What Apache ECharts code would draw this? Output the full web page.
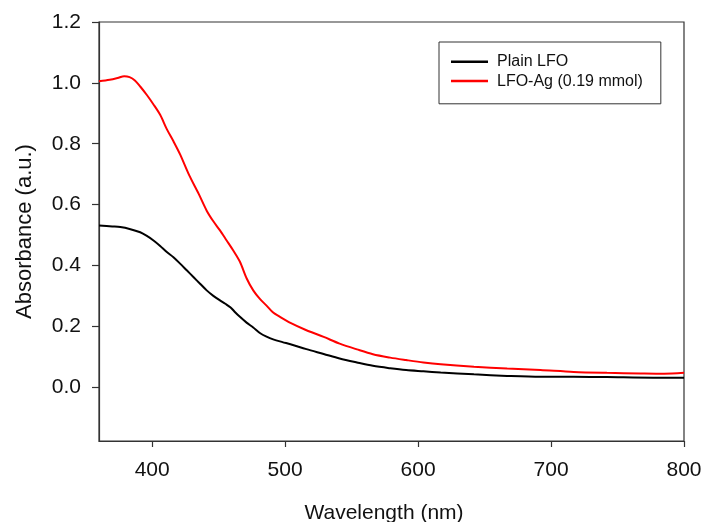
<!DOCTYPE html>
<html>
<head>
<meta charset="utf-8">
<script src="https://cdn.jsdelivr.net/npm/echarts@6/dist/echarts.min.js"></script>
<style>
  html, body { margin: 0; padding: 0; background: #fff; }
  #chart { width: 702px; height: 522px; }
</style>
</head>
<body>
<div id="chart"></div>
<script>
// UV-Vis absorbance spectra
const seriesNames = ['Plain LFO', 'LFO-Ag (0.19 mmol)'];

const plainWavelength = [360, 370, 376, 383, 391, 396, 401, 406, 411, 416, 421, 426, 431, 436, 441, 446, 451, 455, 459, 462, 466, 471, 476, 481, 486, 491, 498, 504, 516, 529, 541, 554, 566, 579, 591, 604, 617, 642, 667, 692, 717, 742, 777, 800];
const plainAbsorbance = [0.531, 0.528, 0.526, 0.520, 0.509, 0.497, 0.482, 0.464, 0.444, 0.427, 0.406, 0.384, 0.362, 0.340, 0.318, 0.300, 0.285, 0.274, 0.262, 0.248, 0.231, 0.212, 0.196, 0.178, 0.166, 0.157, 0.148, 0.141, 0.125, 0.109, 0.094, 0.081, 0.070, 0.062, 0.056, 0.052, 0.048, 0.042, 0.037, 0.034, 0.034, 0.033, 0.031, 0.031];

const agWavelength = [360, 368, 374, 379, 383, 387, 391, 396, 401, 406, 411, 416, 421, 428, 435, 441, 446, 451, 456, 461, 466, 471, 476, 481, 486, 491, 495, 504, 516, 529, 541, 554, 566, 579, 591, 604, 617, 642, 667, 692, 717, 742, 767, 785, 800];
const agAbsorbance = [1.005, 1.010, 1.016, 1.022, 1.019, 1.008, 0.988, 0.960, 0.929, 0.895, 0.848, 0.808, 0.765, 0.695, 0.635, 0.580, 0.545, 0.515, 0.482, 0.449, 0.412, 0.358, 0.318, 0.290, 0.268, 0.245, 0.234, 0.211, 0.187, 0.165, 0.143, 0.124, 0.108, 0.097, 0.089, 0.081, 0.075, 0.067, 0.061, 0.056, 0.050, 0.047, 0.045, 0.044, 0.047];

const xTicks = [400, 500, 600, 700, 800];
const yTicks = [0.0, 0.2, 0.4, 0.6, 0.8, 1.0, 1.2];

function zip(xs, ys) { return xs.map((x, i) => [x, ys[i]]); }

const font = 'Liberation Sans, Arial, sans-serif';
const axisColor = '#333';

const chart = echarts.init(document.getElementById('chart'), null, { renderer: 'canvas' });
chart.setOption({
  animation: false,
  backgroundColor: '#fff',
  grid: {
    left: 99, right: 18, top: 22, bottom: 81,
    outerBoundsMode: 'none',
    containLabel: false,
    show: true, borderColor: axisColor, borderWidth: 1.2, backgroundColor: 'transparent'
  },
  legend: {
    data: seriesNames,
    orient: 'vertical',
    left: 439, top: 42,
    icon: 'rect',
    itemWidth: 37, itemHeight: 2.5, itemGap: 0,
    padding: [10, 18, 13, 12],
    borderColor: axisColor, borderWidth: 1,
    textStyle: { fontFamily: font, fontSize: 16, lineHeight: 19.4, color: '#111', padding: [0, 0, 0, 4] }
  },
  xAxis: {
    type: 'value',
    min: 360, max: 800,
    name: 'Wavelength (nm)',
    nameLocation: 'middle',
    nameGap: 62,
    nameTextStyle: { fontFamily: font, fontSize: 21, color: '#111', padding: [0, 15, 0, 0] },
    axisLine: { show: true, onZero: false, lineStyle: { color: axisColor, width: 1.2 } },
    axisTick: { show: true, length: 6, customValues: xTicks, lineStyle: { color: axisColor, width: 1.2 } },
    axisLabel: { customValues: xTicks, margin: 19, fontFamily: font, fontSize: 21, color: '#111' },
    splitLine: { show: false }
  },
  yAxis: {
    type: 'value',
    min: -0.177, max: 1.2,
    name: 'Absorbance (a.u.)',
    nameLocation: 'middle',
    nameGap: 63,
    nameTextStyle: { fontFamily: font, fontSize: 22, color: '#111' },
    axisLine: { show: true, onZero: false, lineStyle: { color: axisColor, width: 1.2 } },
    axisTick: { show: true, length: 7, customValues: yTicks, lineStyle: { color: axisColor, width: 1.2 } },
    axisLabel: {
      customValues: yTicks, margin: 18, fontFamily: font, fontSize: 21, color: '#111',
      formatter: v => v.toFixed(1)
    },
    splitLine: { show: false }
  },
  series: [
    {
      name: seriesNames[0], type: 'line', symbol: 'none', smooth: 0.3,
      data: zip(plainWavelength, plainAbsorbance),
      lineStyle: { color: '#000', width: 2 }, itemStyle: { color: '#000' }
    },
    {
      name: seriesNames[1], type: 'line', symbol: 'none', smooth: 0.3,
      data: zip(agWavelength, agAbsorbance),
      lineStyle: { color: '#ff0000', width: 2 }, itemStyle: { color: '#ff0000' }
    }
  ]
});
</script>
</body>
</html>
